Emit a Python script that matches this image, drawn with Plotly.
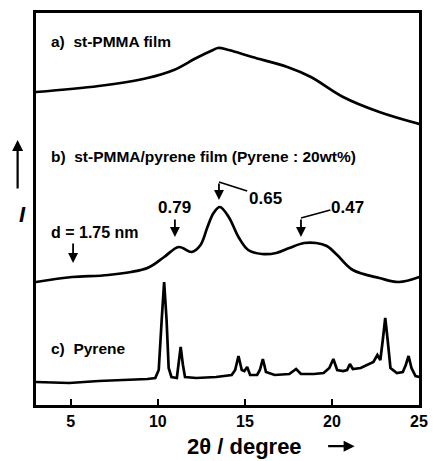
import plotly.graph_objects as go

# 2theta (degree) and intensity (a.u., stacked display)
a_x = [3.0, 6.6, 9.4, 10.92, 12.21, 13.17, 13.45, 14.07, 15.42, 17.44, 18.79, 20.64, 22.72, 25.02]
a_y = [313, 319, 327, 335, 347, 355, 357, 355, 348, 338, 328, 308, 293, 281]

b_x = [3.0, 5.08, 7.16, 9.40, 10.36, 11.20, 11.95, 12.45, 12.85, 13.2, 13.56, 14.07, 14.63, 15.19, 15.98,
       16.8, 17.55, 18.4, 19.1, 19.7, 20.3, 21.2, 22.72, 23.84, 25.02]
b_y = [123, 128, 130, 137, 148, 158, 153, 160, 178, 192, 198, 188, 168, 155, 151,
       152, 157, 162, 162, 159, 150, 135, 127, 123, 128]

c_x = [3.00, 4.91, 6.60, 8.28, 9.40, 9.85, 10.05, 10.22, 10.36, 10.50, 10.62, 10.78, 11.09, 11.18, 11.31,
       11.44, 11.56, 12.21, 13.34, 14.24, 14.44, 14.63, 14.82, 14.97, 15.13, 15.30, 15.70, 15.86, 16.03,
       16.21, 16.71, 17.55, 17.94, 18.22, 18.96, 19.52, 19.85, 20.08, 20.30, 20.64, 20.87, 21.03, 21.20,
       21.65, 22.04, 22.38, 22.61, 22.78, 22.92, 23.06, 23.20, 23.36, 23.73, 24.07, 24.24, 24.40, 24.57,
       24.80, 25.02]
c_y = [23, 22, 24, 25, 26, 27, 35, 85, 123, 85, 37, 28, 27, 40, 58,
       40, 28, 27, 28, 30, 35, 49, 35, 34, 38, 30, 30, 35, 46,
       33, 30, 31, 36, 31, 31, 32, 37, 46, 35, 34, 35, 41, 36,
       37, 40, 43, 50, 45, 65, 87, 65, 37, 32, 33, 40, 49, 37,
       29, 28]

x_ticks = [5, 10, 15, 20, 25]

FONT = "Liberation Sans, Arial, sans-serif"
fig = go.Figure()
for xs, ys, shp in [(a_x, a_y, "spline"), (b_x, b_y, "spline"), (c_x, c_y, "linear")]:
    fig.add_trace(go.Scatter(x=xs, y=ys, mode="lines",
                             line=dict(color="black", width=2.7, shape=shp),
                             showlegend=False, hoverinfo="skip"))

ann = []
def label(x, y, text, size=15.5, xanchor="left"):
    ann.append(dict(x=x, y=y, xref="x", yref="y", text=text, showarrow=False,
                    xanchor=xanchor, yanchor="middle",
                    font=dict(family=FONT, size=size, color="black")))

label(3.75, 364, "<b>a)\u00a0 st-PMMA film</b>")
label(3.75, 249, "<b>b)\u00a0 st-PMMA/pyrene film (Pyrene : 20wt%)</b>")
label(3.75, 57, "<b>c)\u00a0 Pyrene</b>")
label(3.75, 173, "<b>d = 1.75 nm</b>", size=16)
label(10.98, 198, "<b>0.79</b>", size=17, xanchor="center")
label(16.2, 207, "<b>0.65</b>", size=17, xanchor="center")
label(20.87, 198, "<b>0.47</b>", size=17, xanchor="center")

def arrow(x, y0, y1):
    ann.append(dict(x=x, y=y1, ax=x, ay=y0, xref="x", yref="y", axref="x", ayref="y",
                    text="", showarrow=True, arrowhead=2, arrowsize=1.1,
                    arrowwidth=1.8, arrowcolor="black"))

arrow(5.13, 163, 142)
arrow(10.98, 187, 168)
arrow(13.51, 223, 205)
arrow(18.22, 187, 168)

shapes = [
    dict(type="line", xref="x", yref="y", x0=13.51, y0=223, x1=15.13, y1=214,
         line=dict(color="black", width=1.8)),
    dict(type="line", xref="x", yref="y", x0=18.22, y0=187, x1=19.91, y1=195,
         line=dict(color="black", width=1.8)),
]

# axis-side decorations
ann.append(dict(xref="paper", yref="paper", x=-0.048, y=0.676, ax=0, ay=50,
                text="", showarrow=True, arrowhead=2,
                arrowsize=1, arrowwidth=2.2, arrowcolor="black"))
ann.append(dict(xref="paper", yref="paper", x=-0.022, y=0.485, text="<b><i>I</i></b>",
                showarrow=False, xanchor="right", yanchor="middle",
                font=dict(family=FONT, size=22, color="black")))
ann.append(dict(xref="paper", yref="paper", x=0.70, y=-0.105, text="<b>2θ / degree</b>",
                showarrow=False, xanchor="right", yanchor="middle",
                font=dict(family=FONT, size=22, color="black")))
ann.append(dict(xref="paper", yref="paper", x=0.832, y=-0.105, ax=-28, ay=0,
                text="", showarrow=True, arrowhead=2,
                arrowsize=1, arrowwidth=2.2, arrowcolor="black"))

fig.update_layout(
    width=435, height=461,
    margin=dict(l=36, r=7, t=13, b=56),
    paper_bgcolor="white", plot_bgcolor="white",
    annotations=ann, shapes=shapes,
    xaxis=dict(range=[3, 25], tickvals=x_ticks, ticktext=[f"<b>{t}</b>" for t in x_ticks],
               ticks="inside", ticklen=6, tickwidth=1.5, tickcolor="black",
               tickfont=dict(family=FONT, size=16, color="black"),
               showline=True, linewidth=2.5, linecolor="black", mirror=True,
               showgrid=False, zeroline=False),
    yaxis=dict(range=[0, 392], showticklabels=False, ticks="",
               showline=True, linewidth=2.5, linecolor="black", mirror=True,
               showgrid=False, zeroline=False),
)

fig.write_html("out.html", config={"displayModeBar": False},
               post_script="document.body.style.margin='0';document.body.style.overflow='hidden';")
